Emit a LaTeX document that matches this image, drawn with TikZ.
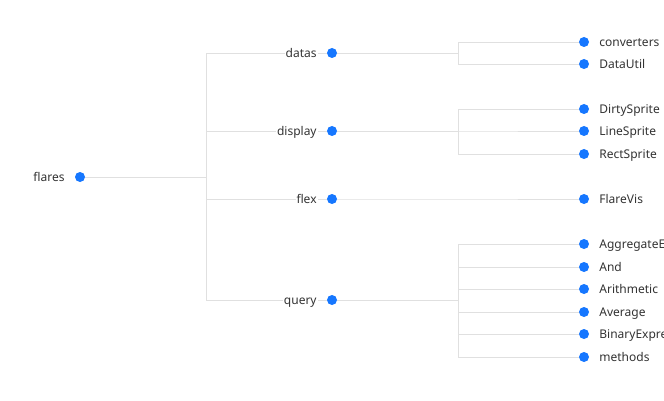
\documentclass[tikz,border=0pt]{standalone}
\usepackage{fontspec}
\setmainfont{Noto Sans}
\usetikzlibrary{backgrounds}
\definecolor{dotblue}{RGB}{22,119,255}
\definecolor{linegray}{RGB}{224,224,224}
\definecolor{textgray}{RGB}{51,51,51}
\begin{document}
\begin{tikzpicture}[x=1pt,y=-1pt,
  dot/.style={circle,fill=dotblue,inner sep=0pt,minimum size=10pt},
  link/.style={draw=linegray,line width=0.9pt},
  lbl/.style={font=\fontsize{12}{14}\selectfont,text=textgray,fill=white,
    inner sep=1pt,text height=9pt,text depth=0pt},
  every label/.style={label distance=9pt},
  ]
\clip (0,0) rectangle (664,401);

\node[dot,label={[lbl]left:flares}] (flares) at (80,177) {};
\coordinate (flares-fork) at (206,177);

\foreach \name/\y in {datas/53,display/131,flex/199,query/300}
{
\node[dot,label={[lbl]left:\name}] (\name) at (332,\y) {};
\coordinate (\name-fork) at (458,\y);
}

\foreach \leaf/\y in {converters/42,DataUtil/64,DirtySprite/109,LineSprite/131,
  RectSprite/154,FlareVis/199,AggregateExpression/244,And/267,Arithmetic/289,
  Average/312,BinaryExpression/334,methods/357}
\node[dot,label={[lbl]right:\leaf}] (\leaf) at (584,\y) {};

\begin{pgfonlayer}{background}
\fill[white] (0,0) rectangle (664,401);
\foreach \name in {datas,display,flex,query}
\draw[link] (flares) -- (flares-fork) |- (\name);
\foreach \leaf/\up in {converters/datas,DataUtil/datas,DirtySprite/display,
  LineSprite/display,RectSprite/display,FlareVis/flex,AggregateExpression/query,
  And/query,Arithmetic/query,Average/query,BinaryExpression/query,methods/query}
\draw[link] (\up) -- (\up-fork) |- (\leaf);
\end{pgfonlayer}
\end{tikzpicture}
\end{document}
